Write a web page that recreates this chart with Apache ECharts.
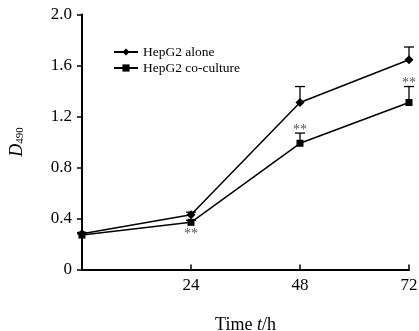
<!DOCTYPE html>
<html><head><meta charset="utf-8">
<script src="https://cdn.jsdelivr.net/npm/echarts@6/dist/echarts.min.js"></script>
<style>html,body{margin:0;padding:0;background:#fff}#c{width:419px;height:331px}</style>
</head><body><div id="c"></div>
<script>
var hours = [0, 24, 48, 72];
var xTickLabels = ['', '24', '48', '72'];
var yTickLabels = ['0', '0.4', '0.8', '1.2', '1.6', '2.0'];
var seriesNames = ['HepG2 alone', 'HepG2 co-culture'];
var aloneMean = [0.28, 0.43, 1.31, 1.645];
var aloneSD = [0.01, 0.02, 0.125, 0.10];
var coMean = [0.27, 0.37, 0.99, 1.31];
var coSD = [0.01, 0.015, 0.08, 0.125];
var coSig = ['', '**', '**', '**'];

var FONT = '"Liberation Serif", "DejaVu Serif", serif';
var chart = echarts.init(document.getElementById('c'), null, {renderer: 'canvas'});

function pairs(xs, ys) { return xs.map(function (x, i) { return [x, ys[i]]; }); }
function errData(means, sds, sig) {
  return hours.map(function (h, i) { return [h, means[i], means[i] + sds[i], sig ? sig[i] : '']; });
}
function errRender(params, api) {
  var x = api.value(0), m = api.value(1), t = api.value(2);
  var p0 = api.coord([x, m]);
  var p1 = api.coord([x, t]);
  var children = [];
  if (p0[1] - p1[1] > 1) {
    children.push({type: 'line', shape: {x1: p0[0], y1: p0[1], x2: p1[0], y2: p1[1]}, style: {stroke: '#000', lineWidth: 1.3}});
    children.push({type: 'line', shape: {x1: p1[0] - 5, y1: p1[1], x2: p1[0] + 5, y2: p1[1]}, style: {stroke: '#000', lineWidth: 1.3}});
  }
  return {type: 'group', children: children};
}
function sigRender(params, api) {
  var x = api.value(0), m = api.value(1), t = api.value(2), s = api.value(3);
  if (!s) return null;
  var p0 = api.coord([x, m]);
  var p1 = api.coord([x, t]);
  var below = (x === 24);
  var pos = below ? [p0[0], p0[1] + 12] : [p1[0], p1[1] + 4];
  return {type: 'text', x: pos[0], y: pos[1], style: {text: s, font: '14px ' + FONT, fill: '#555', align: 'center', verticalAlign: below ? 'middle' : 'bottom'}};
}

chart.setOption({
  animation: false,
  backgroundColor: '#fff',
  grid: {left: 82, right: 10, top: 14.5, bottom: 61.5, containLabel: false, outerBoundsMode: 'none'},
  legend: {
    orient: 'vertical', left: 108, top: 40, itemGap: 2, itemWidth: 24, itemHeight: 9,
    data: seriesNames,
    textStyle: {fontFamily: FONT, fontSize: 13.5, color: '#000'}
  },
  xAxis: {
    type: 'value', min: 0, max: 72, interval: 24,
    name: 'Time {i|t}/h', nameLocation: 'middle', nameGap: 47,
    nameTextStyle: {fontFamily: FONT, fontSize: 18, color: '#000', rich: {i: {fontStyle: 'italic', fontFamily: FONT, fontSize: 18, color: '#000'}}},
    axisLine: {lineStyle: {color: '#000', width: 2}},
    axisTick: {inside: true, length: 5, lineStyle: {color: '#000', width: 1.5}},
    axisLabel: {fontFamily: FONT, fontSize: 17, color: '#000', margin: 8, formatter: function (v) { return xTickLabels[hours.indexOf(v)] || ''; }},
    splitLine: {show: false}
  },
  yAxis: {
    type: 'value', min: 0, max: 2.0, interval: 0.4,
    name: '{d|D}{s|490}', nameLocation: 'middle', nameGap: 56, nameRotate: 90,
    nameTextStyle: {rich: {d: {fontStyle: 'italic', fontFamily: FONT, fontSize: 18, color: '#000'}, s: {fontFamily: FONT, fontSize: 11, color: '#000', verticalAlign: 'bottom', padding: [7, 0, 0, 0]}}},
    axisLine: {show: true, lineStyle: {color: '#000', width: 2}},
    axisTick: {show: true, length: 5, lineStyle: {color: '#000', width: 1.5}},
    axisLabel: {fontFamily: FONT, fontSize: 17, color: '#000', margin: 10, formatter: function (v) { return yTickLabels[Math.round(v / 0.4)]; }},
    splitLine: {show: false}
  },
  series: [
    {type: 'custom', renderItem: errRender, data: errData(aloneMean, aloneSD), z: 1, silent: true},
    {type: 'custom', renderItem: errRender, data: errData(coMean, coSD, coSig), z: 1, silent: true},
    {type: 'custom', renderItem: sigRender, data: errData(coMean, coSD, coSig), z: 5, silent: true},
    {name: seriesNames[0], type: 'line', data: pairs(hours, aloneMean), symbol: 'diamond', symbolSize: 9,
     lineStyle: {color: '#000', width: 1.5}, itemStyle: {color: '#000'}, z: 3},
    {name: seriesNames[1], type: 'line', data: pairs(hours, coMean), symbol: 'rect', symbolSize: 7,
     lineStyle: {color: '#000', width: 1.5}, itemStyle: {color: '#000'}, z: 3}
  ]
});
</script></body></html>
